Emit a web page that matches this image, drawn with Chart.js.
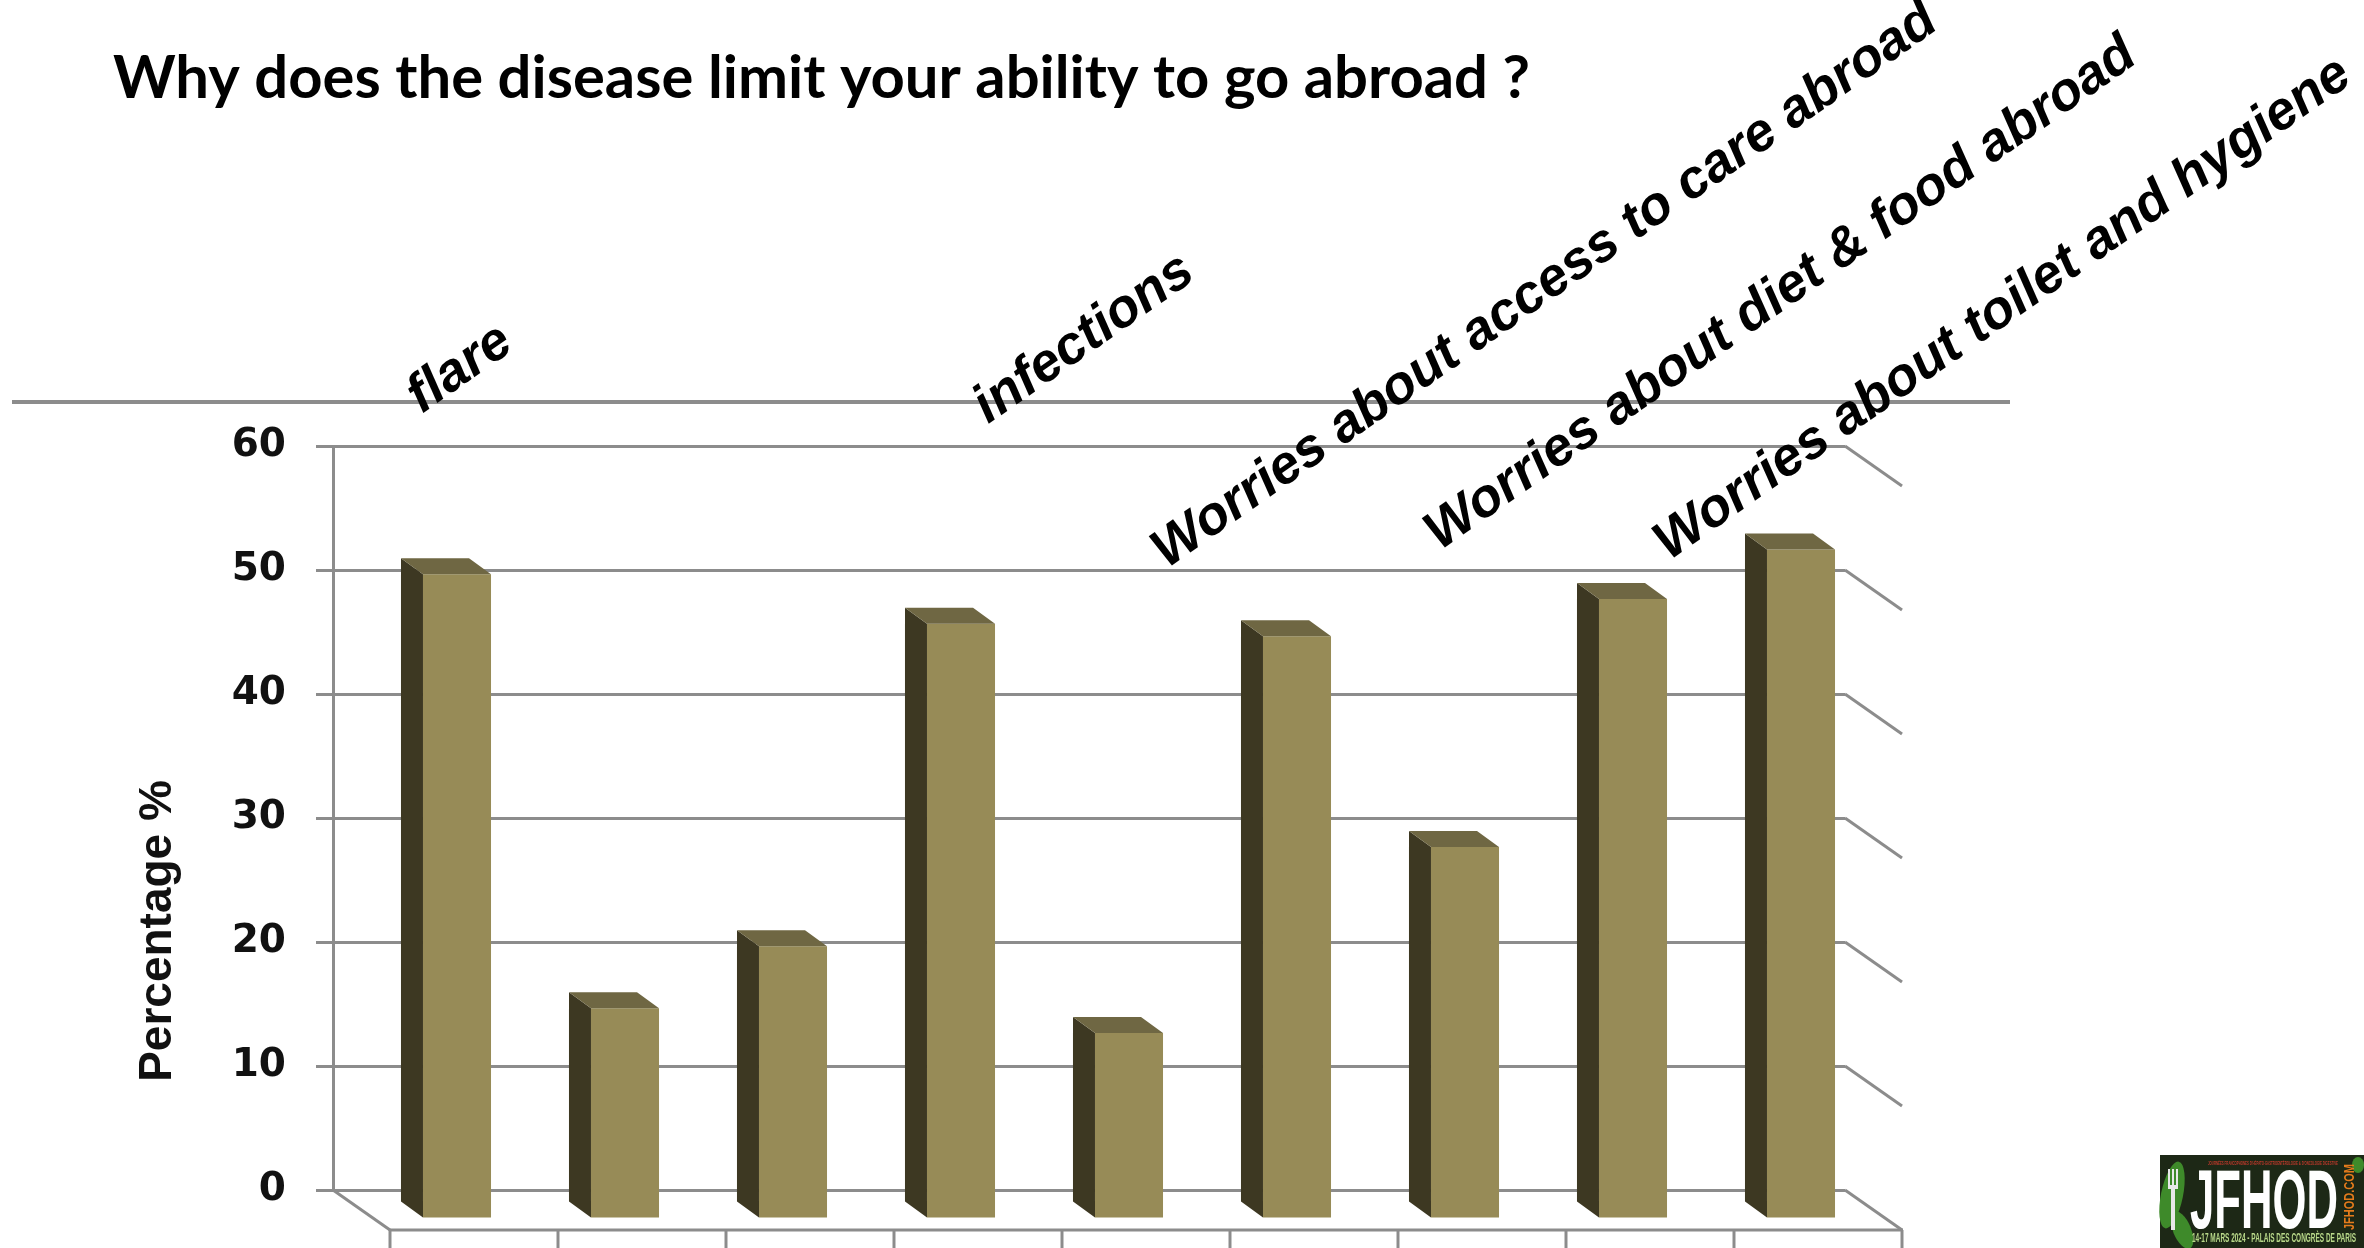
<!DOCTYPE html>
<html>
<head>
<meta charset="utf-8">
<title>Why does the disease limit your ability to go abroad ?</title>
<script src="https://cdn.jsdelivr.net/npm/chart.js@4.4.1/dist/chart.umd.min.js"></script>
<style>
  html, body { margin: 0; padding: 0; background: #ffffff; overflow: hidden; }
  #wrap { position: relative; width: 2364px; height: 1248px; }
  canvas { display: block; }
</style>
</head>
<body>
<div id="wrap"><canvas id="chart" width="2364" height="1248"></canvas></div>
<script>
// ---- data ----
const chartTitle = 'Why does the disease limit your ability to go abroad ?';
const yAxisTitle = 'Percentage %';
const categories = [
  'flare', '', '', 'infections', '',
  'Worries about access to care abroad', '',
  'Worries about diet & food abroad',
  'Worries about toilet and hygiene'
];
const percentages = [52, 17, 22, 48, 15, 47, 30, 50, 54];
const yTickValues = [0, 10, 20, 30, 40, 50, 60];

// ---- styles ----
const GRID = '#8c8c8c';
const FRONT = '#978b57';
const SIDE = '#3d3822';
const TOP = '#6f6743';

// Oblique 3D frame: floor/side walls and bar prisms
const depthPlugin = {
  id: 'depth3d',
  beforeDatasetsDraw(chart, args, o) {
    const { ctx, chartArea: a, scales: { x, y } } = chart;
    const line = (x1, y1, x2, y2) => { ctx.beginPath(); ctx.moveTo(x1, y1); ctx.lineTo(x2, y2); ctx.stroke(); };
    ctx.save();
    ctx.strokeStyle = GRID;
    ctx.lineWidth = 3;
    // right side wall
    y.ticks.forEach(t => {
      const py = y.getPixelForValue(t.value);
      line(a.right, py, a.right + o.wall.dx, py + o.wall.dy);
    });
    // floor
    const y0 = y.getPixelForValue(0);
    line(a.left, y0, a.left + o.wall.dx, y0 + o.wall.dy);
    line(a.left + o.wall.dx - 1, y0 + o.wall.dy, a.right + o.wall.dx + 1, y0 + o.wall.dy);
    // category separators on the front edge
    const n = chart.data.labels.length;
    const half = (x.getPixelForValue(1) - x.getPixelForValue(0)) / 2;
    for (let i = 0; i <= n; i++) {
      const px = (i < n ? x.getPixelForValue(i) - half : x.getPixelForValue(n - 1) + half) + o.wall.dx;
      line(px, y0 + o.wall.dy, px, y0 + o.wall.dy + o.tickLen);
    }
    ctx.restore();
    // front faces are drawn by the bar controller, shifted forward
    ctx.save();
    ctx.translate(o.front.dx, o.front.dy);
  },
  afterDatasetsDraw(chart, args, o) {
    const { ctx } = chart;
    ctx.restore();
    const F = o.front, B = o.back;
    chart.getDatasetMeta(0).data.forEach(bar => {
      const p = bar.getProps(['x', 'y', 'base', 'width'], true);
      const l = p.x - p.width / 2, r = p.x + p.width / 2;
      // left side face
      ctx.fillStyle = SIDE;
      ctx.beginPath();
      ctx.moveTo(l + F.dx, p.y + F.dy);
      ctx.lineTo(l + B.dx, p.y + B.dy);
      ctx.lineTo(l + B.dx, p.base + B.dy);
      ctx.lineTo(l + F.dx, p.base + F.dy);
      ctx.closePath();
      ctx.fill();
      // top face
      ctx.fillStyle = TOP;
      ctx.beginPath();
      ctx.moveTo(l + F.dx, p.y + F.dy);
      ctx.lineTo(l + B.dx, p.y + B.dy);
      ctx.lineTo(r + B.dx, p.y + B.dy);
      ctx.lineTo(r + F.dx, p.y + F.dy);
      ctx.closePath();
      ctx.fill();
    });
  }
};

// Titles, rotated category captions and the footer badge
const textPlugin = {
  id: 'slideText',
  afterDraw(chart, args, o) {
    const { ctx } = chart;
    ctx.save();
    // rule under the heading
    ctx.strokeStyle = GRID;
    ctx.lineWidth = 4;
    ctx.beginPath(); ctx.moveTo(12, 402); ctx.lineTo(2010, 402); ctx.stroke();

    // heading
    ctx.fillStyle = '#000';
    ctx.textAlign = 'left';
    ctx.textBaseline = 'alphabetic';
    ctx.font = 'bold 60px Lato, "Open Sans", sans-serif';
    ctx.fillText(chartTitle, 113, 98, 1417);

    // y axis title
    ctx.save();
    ctx.translate(158, 931);
    ctx.rotate(-Math.PI / 2);
    ctx.textAlign = 'center';
    ctx.textBaseline = 'middle';
    ctx.font = 'bold 46px "Liberation Sans", Arial, sans-serif';
    ctx.fillStyle = '#111';
    ctx.fillText(yAxisTitle, 0, 0, 312);
    ctx.restore();

    // category captions
    ctx.font = 'italic bold 54px "Liberation Sans", Arial, sans-serif';
    ctx.fillStyle = '#000';
    chart.data.labels.forEach((lab, i) => {
      const c = o.captions[i];
      if (!lab || !c) return;
      ctx.save();
      ctx.translate(c[0], c[1]);
      ctx.rotate(-o.angle * Math.PI / 180);
      ctx.textAlign = 'center';
      ctx.textBaseline = 'middle';
      ctx.fillText(lab, 0, 0);
      ctx.restore();
    });

    // footer badge
    const bx = 2160, by = 1155, bw = 204, bh = 93;
    ctx.fillStyle = '#1d2816';
    ctx.fillRect(bx, by, bw, bh);
    ctx.fillStyle = '#3e8a2a';
    ctx.beginPath(); ctx.ellipse(bx + 12, by + 40, 11, 34, 0.2, 0, Math.PI * 2); ctx.fill();
    ctx.beginPath(); ctx.ellipse(bx + 22, by + 75, 9, 20, -0.4, 0, Math.PI * 2); ctx.fill();
    ctx.beginPath(); ctx.ellipse(bx + 198, by + 10, 6, 8, 0, 0, Math.PI * 2); ctx.fill();
    // fork
    ctx.fillStyle = '#e8e8e8';
    ctx.fillRect(bx + 8, by + 14, 2, 18);
    ctx.fillRect(bx + 12, by + 14, 2, 18);
    ctx.fillRect(bx + 16, by + 14, 2, 18);
    ctx.fillRect(bx + 8, by + 30, 10, 4);
    ctx.fillRect(bx + 11, by + 33, 4, 42);
    ctx.fillStyle = '#ffffff';
    ctx.font = 'bold 84px "Liberation Sans", Arial, sans-serif';
    ctx.textAlign = 'left';
    ctx.textBaseline = 'alphabetic';
    ctx.fillText('JFHOD', bx + 30, by + 73, 148);
    ctx.fillStyle = '#c0392b';
    ctx.font = 'bold 6px "Liberation Sans", Arial, sans-serif';
    ctx.fillText("JOURNÉES FRANCOPHONES D'HÉPATO-GASTROENTÉROLOGIE & D'ONCOLOGIE DIGESTIVE", bx + 48, by + 10, 130);
    ctx.fillStyle = '#b9d98a';
    ctx.font = 'bold 12px "Liberation Sans", Arial, sans-serif';
    ctx.fillText('14-17 MARS 2024 - PALAIS DES CONGRÈS DE PARIS', bx + 32, by + 87, 164);
    ctx.save();
    ctx.translate(bx + 190, by + 42);
    ctx.rotate(-Math.PI / 2);
    ctx.fillStyle = '#e47b1c';
    ctx.font = 'bold 15px "Liberation Sans", Arial, sans-serif';
    ctx.textAlign = 'center';
    ctx.textBaseline = 'middle';
    ctx.fillText('JFHOD.COM', 0, 0, 66);
    ctx.restore();

    ctx.restore();
  }
};

new Chart(document.getElementById('chart'), {
  type: 'bar',
  data: {
    labels: categories,
    datasets: [{
      data: percentages,
      backgroundColor: FRONT,
      borderWidth: 0,
      categoryPercentage: 1,
      barPercentage: 0.405
    }]
  },
  options: {
    responsive: false,
    animation: false,
    events: [],
    layout: { padding: { left: 0, top: 446, right: 519, bottom: 58 } },
    plugins: {
      legend: { display: false },
      tooltip: { enabled: false },
      depth3d: {
        wall: { dx: 57, dy: 40 },
        front: { dx: 40, dy: 29 },
        back: { dx: 18, dy: 13 },
        tickLen: 20
      },
      slideText: {
        angle: 35,
        captions: [[460, 369], null, null, [1084, 339], null, [1545, 286], null, [1781, 294], [2003, 309]]
      }
    },
    scales: {
      x: { display: false, offset: true },
      y: {
        min: 0,
        max: 60,
        afterBuildTicks: s => { s.ticks = yTickValues.map(v => ({ value: v })); },
        afterFit: s => { s.width = 333; },
        grid: { color: GRID, lineWidth: 3, tickLength: 17, drawTicks: true },
        border: { display: true, color: GRID, width: 3 },
        ticks: {
          color: '#111',
          padding: 30,
          font: { family: '"DejaVu Sans", Verdana, sans-serif', weight: 'bold', size: 39 }
        }
      }
    }
  },
  plugins: [depthPlugin, textPlugin]
});
</script>
</body>
</html>
